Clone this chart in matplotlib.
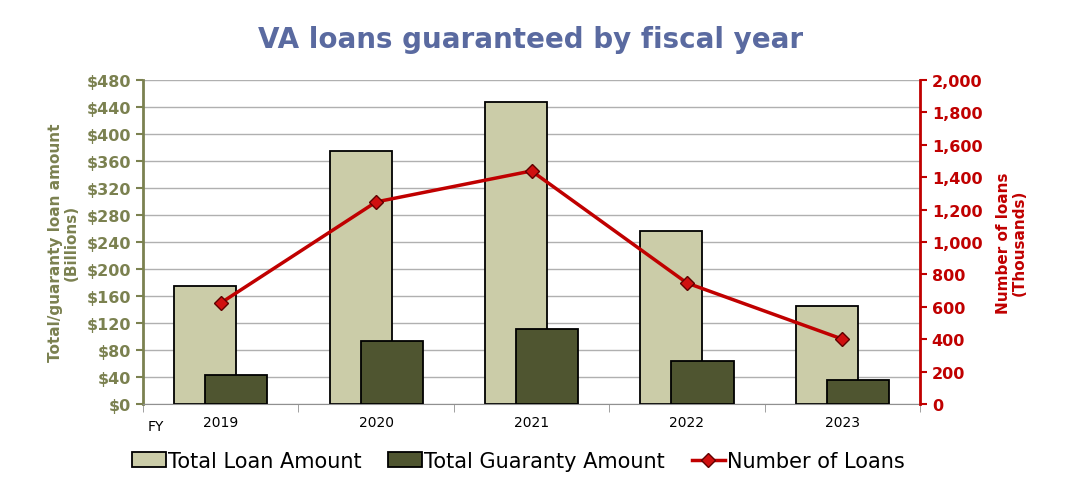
import numpy as np
import matplotlib.pyplot as plt
from matplotlib.ticker import FuncFormatter, MultipleLocator

years = ['2019', '2020', '2021', '2022', '2023']
total_loan = [175, 375, 447, 256, 145]        # $ billions
total_guaranty = [43, 93, 111, 64, 36]        # $ billions
num_loans = [624, 1247, 1438, 747, 401]       # thousands

olive = '#7b8150'
light = '#cbcca8'
dark = '#4f5530'
red = '#c00000'

fig = plt.figure(figsize=(10.76, 5.02), dpi=100)
ax = fig.add_axes([0.133, 0.193, 0.722, 0.646])
ax2 = ax.twinx()

x = np.arange(len(years))
w = 0.4
ax.bar(x - 0.1, total_loan, w, color=light, edgecolor='black', linewidth=1.3,
       label='Total Loan Amount', zorder=2)
ax.bar(x + 0.1, total_guaranty, w, color=dark, edgecolor='black', linewidth=1.3,
       label='Total Guaranty Amount', zorder=3)
ax2.plot(x, num_loans, color=red, lw=2.5, marker='D', markersize=7,
         markerfacecolor='#d01010', markeredgecolor='#600000', markeredgewidth=1,
         label='Number of Loans', zorder=4)

ax.set_xlim(-0.5, 4.5)
ax.set_ylim(0, 480)
ax2.set_ylim(0, 2000)

ax.yaxis.set_major_locator(MultipleLocator(40))
ax.yaxis.set_major_formatter(FuncFormatter(lambda v, p: f'${v:.0f}'))
ax2.yaxis.set_major_locator(MultipleLocator(200))
ax2.yaxis.set_major_formatter(FuncFormatter(lambda v, p: f'{v:,.0f}'))

ax.grid(axis='y', color='#b0b0b0', lw=1, zorder=0)
ax.set_axisbelow(True)

ax.set_xticks(x)
ax.set_xticklabels(years, fontsize=10)
ax.set_xticks(np.arange(-0.5, 5, 1), minor=True)
ax.tick_params(axis='x', which='major', length=0, pad=8)
ax.tick_params(axis='x', which='minor', length=6, color='#909090')
ax.text(-0.47, -0.045, 'FY', transform=ax.get_xaxis_transform(),
        fontsize=10, va='top', ha='left')

ax.tick_params(axis='y', colors=olive, labelsize=11.5, width=1.5, length=5)
for t in ax.get_yticklabels():
    t.set_fontweight('bold')
ax2.tick_params(axis='y', colors=red, labelsize=11.5, width=1.5, length=5)
for t in ax2.get_yticklabels():
    t.set_fontweight('bold')

for a in (ax, ax2):
    a.spines['top'].set_visible(False)
ax.spines['left'].set_color(olive)
ax.spines['left'].set_linewidth(2)
ax.spines['right'].set_visible(False)
ax2.spines['left'].set_visible(False)
ax2.spines['right'].set_color(red)
ax2.spines['right'].set_linewidth(2)
ax.spines['bottom'].set_color('#909090')
ax2.spines['bottom'].set_visible(False)

ax.set_ylabel('Total/guaranty loan amount\n(Billions)', color=olive,
              fontsize=11, fontweight='bold', labelpad=6, linespacing=1.0)
ax2.set_ylabel('Number of loans\n(Thousands)', color=red,
               fontsize=11, fontweight='bold', labelpad=10, linespacing=1.0)

fig.text(0.493, 0.92, 'VA loans guaranteed by fiscal year', ha='center',
         va='center', fontsize=20, fontweight='bold', color='#5a6aa0')

h1, l1 = ax.get_legend_handles_labels()
h2, l2 = ax2.get_legend_handles_labels()
fig.legend(h1 + h2, l1 + l2, loc='center', bbox_to_anchor=(0.482, 0.08),
           ncol=3, frameon=False, fontsize=15, handlelength=1.6,
           handletextpad=0.1, columnspacing=1.3)

fig.savefig('out.png', dpi=100)
